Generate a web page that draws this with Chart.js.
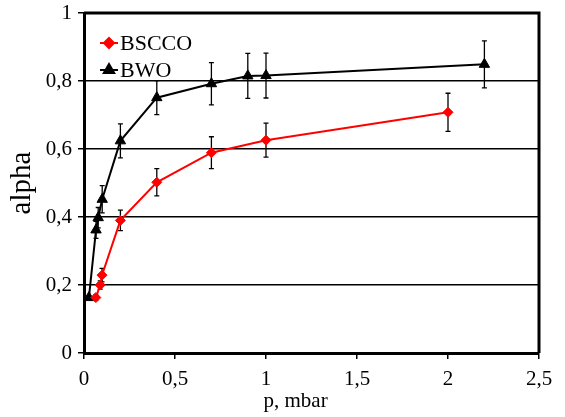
<!DOCTYPE html>
<html>
<head>
<meta charset="utf-8">
<script src="https://cdn.jsdelivr.net/npm/chart.js@4"></script>
<style>
  html, body { margin: 0; padding: 0; background: #fff; }
  #c { display: block; }
</style>
</head>
<body>
<canvas id="c" width="565" height="417"></canvas>
<script>
// Pressure (mbar), alpha and its uncertainty for each sample
const bsccoP   = [0.065, 0.089, 0.099, 0.2, 0.4, 0.7, 1.0, 2.0];
const bsccoA   = [0.163, 0.200, 0.229, 0.390, 0.502, 0.589, 0.626, 0.708];
const bsccoErr = [0.008, 0.012, 0.020, 0.030, 0.040, 0.047, 0.050, 0.056];

const bwoP   = [0.027, 0.066, 0.078, 0.1, 0.2, 0.4, 0.7, 0.9, 1.0, 2.2];
const bwoA   = [0.163, 0.362, 0.398, 0.452, 0.624, 0.751, 0.792, 0.815, 0.816, 0.849];
const bwoErr = [0.0, 0.025, 0.030, 0.040, 0.050, 0.050, 0.062, 0.066, 0.066, 0.069];

const xTickLabels = ['0', '0,5', '1', '1,5', '2', '2,5'];
const yTickLabels = ['0', '0,2', '0,4', '0,6', '0,8', '1'];

const seriesNames = ['BSCCO', 'BWO'];
const xTitle = 'p, mbar';

const toPoints = (xs, ys) => xs.map((x, i) => ({ x: x, y: ys[i] }));

const SERIF = '"Liberation Serif", "DejaVu Serif", serif';

// Vertical error bars with caps, placed through the chart scales
const errorBars = {
  id: 'errorBars',
  beforeDatasetsDraw(chart) {
    const ctx = chart.ctx;
    const xs = chart.scales.x, ys = chart.scales.y;
    const errs = [bsccoErr, bwoErr];
    ctx.save();
    ctx.strokeStyle = '#000';
    ctx.lineWidth = 1.3;
    chart.data.datasets.forEach((ds, di) => {
      ds.data.forEach((pt, i) => {
        const e = errs[di][i];
        if (!e) return;
        const px = xs.getPixelForValue(pt.x);
        const top = ys.getPixelForValue(pt.y + e);
        const bot = ys.getPixelForValue(pt.y - e);
        ctx.beginPath();
        ctx.moveTo(px, top); ctx.lineTo(px, bot);
        ctx.moveTo(px - 2.5, top); ctx.lineTo(px + 2.5, top);
        ctx.moveTo(px - 2.5, bot); ctx.lineTo(px + 2.5, bot);
        ctx.stroke();
      });
    });
    ctx.restore();
  }
};

// Box around the plot area (top and right sides) and the x-axis caption
const frame = {
  id: 'frame',
  afterDraw(chart) {
    const a = chart.chartArea, ctx = chart.ctx;
    ctx.save();
    ctx.strokeStyle = '#000';
    ctx.lineWidth = 3;
    ctx.beginPath();
    ctx.moveTo(a.left, a.top);
    ctx.lineTo(a.right, a.top);
    ctx.lineTo(a.right, a.bottom);
    ctx.stroke();
    ctx.fillStyle = '#000';
    ctx.font = '21px ' + SERIF;
    ctx.textAlign = 'center';
    ctx.textBaseline = 'middle';
    ctx.fillText(xTitle, a.left + (a.right - a.left) * 0.465, chart.height - 16);
    ctx.restore();
  }
};

// Legend inside the plot: short line with marker, then the series name
const insideLegend = {
  id: 'insideLegend',
  afterDraw(chart) {
    const ctx = chart.ctx;
    const a = chart.chartArea;
    const x0 = a.left + 16, y0 = a.top + 30, gap = 27;
    ctx.save();
    chart.data.datasets.forEach((ds, i) => {
      const y = y0 + i * gap;
      ctx.strokeStyle = ds.borderColor;
      ctx.lineWidth = 2;
      ctx.beginPath();
      ctx.moveTo(x0, y); ctx.lineTo(x0 + 18, y);
      ctx.stroke();
      ctx.fillStyle = ds.pointBackgroundColor;
      ctx.strokeStyle = ds.pointBorderColor;
      Chart.helpers.drawPoint(ctx, {
        pointStyle: ds.pointStyle, radius: ds.pointRadius, borderWidth: 1, rotation: 0
      }, x0 + 9, y);
      ctx.fillStyle = '#000';
      ctx.font = '22px ' + SERIF;
      ctx.textBaseline = 'middle';
      ctx.textAlign = 'left';
      ctx.fillText(ds.label, x0 + 20, y + 1);
    });
    ctx.restore();
  }
};

new Chart(document.getElementById('c'), {
  type: 'scatter',
  data: {
    datasets: [
      {
        label: seriesNames[0],
        data: toPoints(bsccoP, bsccoA),
        showLine: true,
        borderColor: '#ff0000',
        borderWidth: 2,
        pointStyle: 'rectRot',
        pointRadius: 5,
        pointBackgroundColor: '#ff0000',
        pointBorderColor: '#ff0000',
        pointBorderWidth: 1,
        tension: 0
      },
      {
        label: seriesNames[1],
        data: toPoints(bwoP, bwoA),
        showLine: true,
        borderColor: '#000000',
        borderWidth: 2,
        pointStyle: 'triangle',
        pointRadius: 6,
        pointBackgroundColor: '#000000',
        pointBorderColor: '#000000',
        pointBorderWidth: 1,
        tension: 0
      }
    ]
  },
  options: {
    responsive: false,
    animation: false,
    devicePixelRatio: 1,
    layout: { padding: { top: 13, right: 26, left: 0, bottom: 0 } },
    plugins: {
      legend: { display: false },
      tooltip: { enabled: false }
    },
    scales: {
      x: {
        type: 'linear',
        min: 0, max: 2.5,
        afterFit(s) { s.height = 64; s.paddingLeft = 0; s.paddingRight = 0; },
        border: { color: '#000', width: 3 },
        grid: { drawOnChartArea: false, drawTicks: true, tickLength: 6, color: '#000', lineWidth: 1.5 },
        ticks: {
          stepSize: 0.5,
          padding: 8,
          color: '#000',
          font: { family: SERIF, size: 21 },
          callback: (v) => xTickLabels[Math.round(v / 0.5)]
        }
      },
      y: {
        type: 'linear',
        min: 0, max: 1,
        afterFit(s) { s.width = 84; s.paddingTop = 0; s.paddingBottom = 0; },
        border: { color: '#000', width: 3 },
        grid: { drawTicks: true, tickLength: 6, color: '#000', lineWidth: 1.5 },
        ticks: {
          stepSize: 0.2,
          padding: 6,
          color: '#000',
          font: { family: SERIF, size: 21 },
          callback: (v) => yTickLabels[Math.round(v / 0.2)]
        },
        title: {
          display: true,
          text: 'alpha',
          color: '#000',
          font: { family: SERIF, size: 29 },
          padding: { top: 5, bottom: 0 }
        }
      }
    }
  },
  plugins: [errorBars, frame, insideLegend]
});
</script>
</body>
</html>
